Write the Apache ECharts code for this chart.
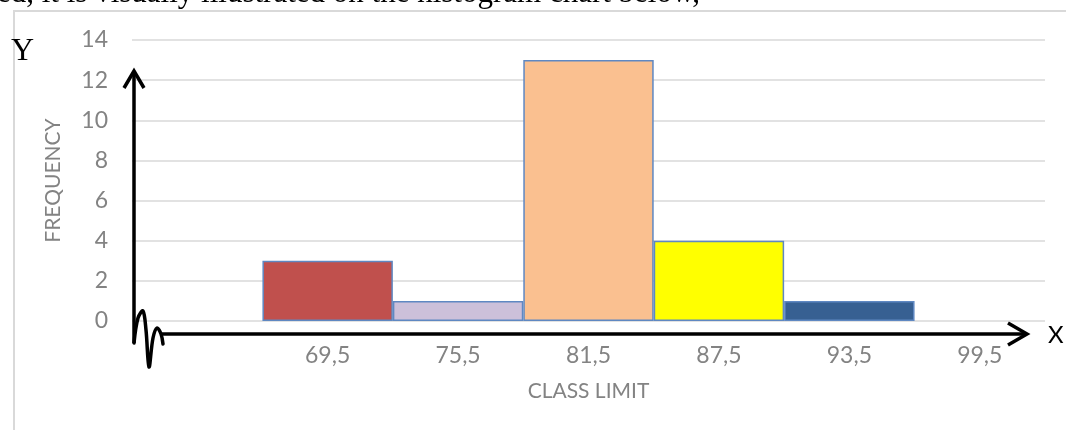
<!DOCTYPE html>
<html>
<head>
<meta charset="utf-8">
<script src="https://cdn.jsdelivr.net/npm/echarts@6/dist/echarts.min.js"></script>
<style>
html,body{margin:0;padding:0;background:#fff;}
#chart{width:1066px;height:430px;}
</style>
</head>
<body>
<div id="chart"></div>
<script>
// ---- data ----
var categories = ['', '69,5', '75,5', '81,5', '87,5', '93,5', '99,5'];
var frequencies = [0, 3, 1, 13, 4, 1, 0];
var barColors = ['#ffffff', '#c0504d', '#ccc0da', '#fac090', '#ffff00', '#376092', '#ffffff'];
var yTicks = [0, 2, 4, 6, 8, 10, 12, 14];
var captionText = 'ed, it is visually illustrated on the histogram chart below,';
var xTitle = 'CLASS LIMIT';
var yTitle = 'FREQUENCY';

var chart = echarts.init(document.getElementById('chart'), null, {renderer: 'canvas'});
var gray = '#838383';
var labelFont = 'Lato';

var option = {
  animation: false,
  backgroundColor: '#ffffff',
  grid: {left: 132, right: 21, top: 40, bottom: 109, containLabel: false},
  xAxis: {
    type: 'category',
    data: categories,
    axisLine: {show: false},
    axisTick: {show: false},
    axisLabel: {color: gray, fontFamily: labelFont, fontSize: 23, margin: 23, interval: 0},
    name: xTitle,
    nameLocation: 'middle',
    nameGap: 60,
    nameTextStyle: {color: gray, fontFamily: labelFont, fontSize: 21}
  },
  yAxis: {
    type: 'value',
    min: yTicks[0],
    max: yTicks[yTicks.length - 1],
    interval: yTicks[1] - yTicks[0],
    axisLine: {show: false},
    axisTick: {show: false},
    axisLabel: {color: gray, fontFamily: labelFont, fontSize: 23, margin: 24},
    splitLine: {lineStyle: {color: '#e2e2e2', width: 2}},
    name: yTitle,
    nameLocation: 'middle',
    nameGap: 68,
    nameRotate: 90,
    nameTextStyle: {color: gray, fontFamily: labelFont, fontSize: 21}
  },
  series: [{
    type: 'bar',
    barCategoryGap: '0%',
    data: frequencies.map(function (v, i) {
      return {
        value: v,
        itemStyle: {color: barColors[i], borderColor: v > 0 ? '#5f88c2' : 'transparent', borderWidth: v > 0 ? 1.5 : 0}
      };
    })
  }],
  graphic: [
    {type: 'rect', shape: {x: 14, y: 11, width: 1200, height: 600}, style: {fill: 'none', stroke: '#d9d9d9', lineWidth: 2}, z: 1},
    {type: 'text', x: -3, y: -22, style: {text: captionText, fontSize: 31, fontFamily: 'Liberation Serif', fill: '#000'}, z: 10},
    {type: 'text', x: 11, y: 36, style: {text: 'Y', fontSize: 32, fontFamily: 'Liberation Serif', fill: '#000'}, z: 10},
    {type: 'text', x: 1048, y: 323, style: {text: 'X', fontSize: 24, fontFamily: 'Lato', fill: '#000'}, z: 10},
    // vertical arrow
    {type: 'polyline', shape: {points: [[134, 343], [134, 72]]}, style: {stroke: '#000', lineWidth: 3.5, fill: null}, z: 10},
    {type: 'polyline', shape: {points: [[124, 88], [134, 71], [144, 88]]}, style: {stroke: '#000', lineWidth: 3.5, fill: null, lineJoin: 'miter'}, z: 10},
    // horizontal arrow
    {type: 'polyline', shape: {points: [[160, 334], [1026, 334]]}, style: {stroke: '#000', lineWidth: 3.5, fill: null}, z: 10},
    {type: 'polyline', shape: {points: [[1008, 323], [1027, 334], [1008, 345]]}, style: {stroke: '#000', lineWidth: 3.5, fill: null, lineJoin: 'miter'}, z: 10},
    // squiggle
    {type: 'polyline', shape: {smooth: 0.35, points: [[134, 343], [138, 318], [143, 311], [146, 330], [149, 367], [153, 338], [157, 328], [161, 334], [163, 344]]}, style: {stroke: '#000', lineWidth: 3.5, fill: null, lineCap: 'round'}, z: 10}
  ]
};
chart.setOption(option);
</script>
</body>
</html>
